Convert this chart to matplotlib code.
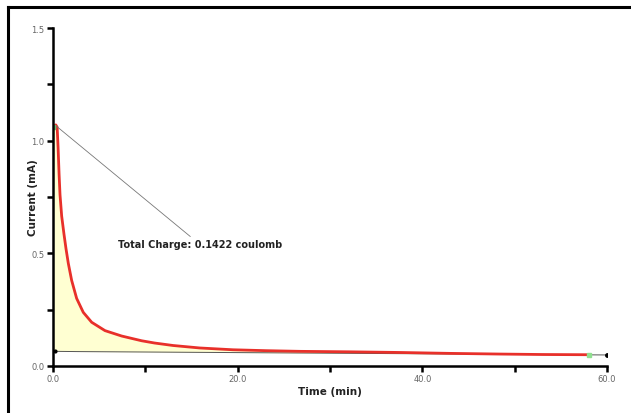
import numpy as np
import matplotlib
matplotlib.use("Agg")
import matplotlib.pyplot as plt
from matplotlib.ticker import MultipleLocator, FormatStrFormatter

# current decay (time in min, current in mA)
time_min = [0.0, 0.3, 0.45, 0.55, 0.66, 0.76, 0.94, 1.19, 1.41, 1.66, 2.02,
            2.56, 3.28, 4.19, 5.63, 7.44, 9.6, 11.0, 13.0, 15.9, 19.5, 23.1,
            26.8, 32.0, 37.6, 43.0, 48.4, 53.0, 58.1]
current_ma = [1.06, 1.07, 1.06, 0.97, 0.85, 0.76, 0.665, 0.585, 0.52, 0.455,
              0.38, 0.30, 0.238, 0.194, 0.157, 0.133, 0.112, 0.102, 0.091,
              0.080, 0.072, 0.068, 0.065, 0.063, 0.060, 0.056, 0.053, 0.051,
              0.050]

# integration baseline
base_t = [0.2, 2.7, 60.0]
base_i = [0.065, 0.064, 0.049]

charge_text = "Total Charge: 0.1422 coulomb"

fig = plt.figure(figsize=(6.31, 4.14), dpi=100)
fig.patch.set_facecolor("white")

# outer frame (left and top edges visible)
fig.add_artist(plt.Line2D([8 / 631, 8 / 631], [0, 406 / 414], color="black", lw=2.2,
                          transform=fig.transFigure))
fig.add_artist(plt.Line2D([8 / 631, 1], [406 / 414, 406 / 414], color="black", lw=2.2,
                          transform=fig.transFigure))

ax = fig.add_axes([53 / 631, 47 / 414, 554 / 631, 338 / 414])

t = np.array(time_min)
i = np.array(current_ma)
base_on_t = np.interp(t, base_t, base_i)

ax.fill_between(t, base_on_t, i, color="#ffffd2", lw=0)
ax.plot(base_t, base_i, color="#555555", lw=0.7)
ax.plot(time_min, current_ma, color="#e8302a", lw=2.0,
        solid_capstyle="round", solid_joinstyle="round")
ax.plot(time_min[-1], current_ma[-1], "s", color="#90e090", ms=2.5)
ax.plot(time_min[0], current_ma[0], "s", color="#70c070", ms=2.5)
ax.plot(base_t[-1], base_i[-1], "o", color="black", ms=2.5)
ax.plot(base_t[0], base_i[0], "o", color="black", ms=2)

ax.annotate(charge_text, xy=(0.35, 1.065), xytext=(7.0, 0.54),
            fontsize=7, fontweight="bold", color="#222222", va="center", ha="left",
            arrowprops=dict(arrowstyle="-", color="#777777", lw=0.6,
                            shrinkA=0, shrinkB=0))

ax.set_xlim(0, 60)
ax.set_ylim(0, 1.5)

ax.xaxis.set_major_locator(MultipleLocator(20))
ax.xaxis.set_minor_locator(MultipleLocator(10))
ax.yaxis.set_major_locator(MultipleLocator(0.5))
ax.yaxis.set_minor_locator(MultipleLocator(0.25))
ax.xaxis.set_major_formatter(FormatStrFormatter("%.1f"))
ax.yaxis.set_major_formatter(FormatStrFormatter("%.1f"))

for side in ["top", "right"]:
    ax.spines[side].set_visible(False)
for side in ["left", "bottom"]:
    ax.spines[side].set_linewidth(1.8)

ax.tick_params(which="both", direction="out", width=1.8, colors="black",
               labelcolor="#666666", labelsize=6)
ax.tick_params(which="major", length=4, pad=2)
ax.tick_params(which="minor", length=4)

ax.set_xlabel("Time (min)", fontsize=7.5, fontweight="bold", color="#222222")
ax.set_ylabel("Current (mA)", fontsize=7.5, fontweight="bold", color="#222222")
ax.xaxis.set_label_coords(0.5, -0.074)
ax.yaxis.set_label_coords(-0.036, 0.5)
ax.xaxis.label.set_va("center")
ax.yaxis.label.set_va("center")

fig.savefig("out.png", dpi=100)
